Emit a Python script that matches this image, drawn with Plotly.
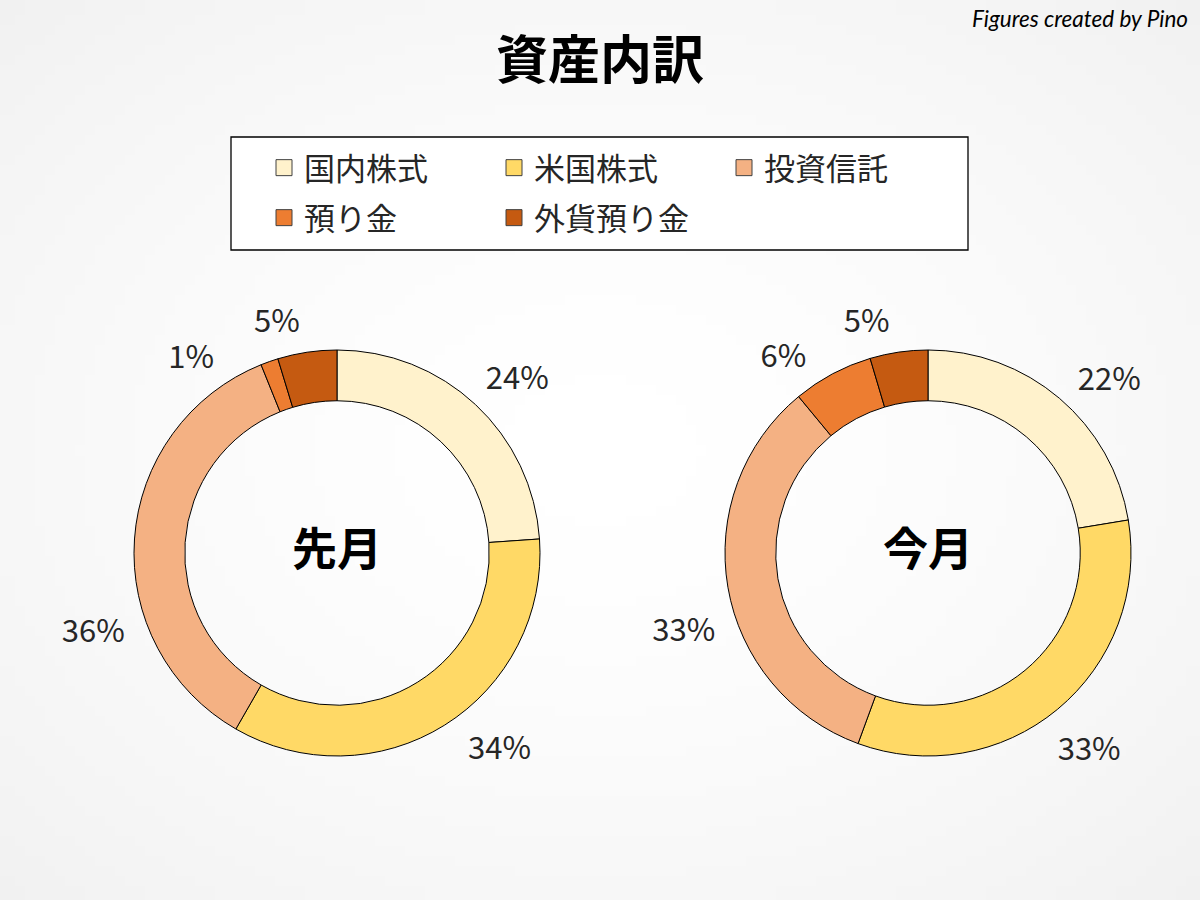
import math, zlib, struct, base64
import plotly.graph_objects as go

# ---------------- data ----------------
categories = ["国内株式", "米国株式", "投資信託", "預り金", "外貨預り金"]
last_month = [23.9, 34.4, 35.6, 1.4, 4.7]
this_month = [22.4, 33.2, 33.4, 6.4, 4.6]
pie_titles = ["先月", "今月"]
colors = ["#FFF2CC", "#FFD966", "#F4B183", "#ED7D31", "#C55A11"]
legend_rows = [["国内株式", "米国株式", "投資信託"], ["預り金", "外貨預り金"]]

# ---------------- styling ----------------
W, H = 1200, 900
FONT = "Noto Sans CJK JP"
centers = [(337, 553), (928, 553)]
R_MAIN = 203
R_LABEL = 214
# the labels in the original were dragged a little off their slice centres;
# angular nudges (degrees, clockwise) applied to each label's carrier ring
label_nudges = [[-3, -2, -24, -12, 1.5], [0, 6, -10, -3, 1]]


def gradient_png(w=120, h=90):
    rows = []
    for j in range(h):
        row = bytearray([0])
        for i in range(w):
            dx = (i + 0.5) / w - 0.5
            dy = (j + 0.5) / h - 0.5
            d = min(1.0, math.hypot(dx, dy) / 0.7071)
            v = int(round(255 - 14 * d ** 1.6))
            row += bytes([v, v, v])
        rows.append(bytes(row))
    raw = b"".join(rows)

    def chunk(t, d):
        return struct.pack(">I", len(d)) + t + d + struct.pack(">I", zlib.crc32(t + d) & 0xFFFFFFFF)

    png = (b"\x89PNG\r\n\x1a\n"
           + chunk(b"IHDR", struct.pack(">IIBBBBB", w, h, 8, 2, 0, 0, 0))
           + chunk(b"IDAT", zlib.compress(raw))
           + chunk(b"IEND", b""))
    return "data:image/png;base64," + base64.b64encode(png).decode()


def domain(cx, cy, r):
    return dict(x=[(cx - r) / W, (cx + r) / W], y=[(H - cy - r) / H, (H - cy + r) / H])


fig = go.Figure()
n = len(categories)
for vals, title, (cx, cy), nudges in zip([last_month, this_month], pie_titles, centers, label_nudges):
    # visible donut
    fig.add_trace(go.Pie(
        labels=categories, values=vals, sort=False, direction="clockwise", rotation=0,
        hole=0.75, domain=domain(cx, cy, R_MAIN),
        marker=dict(colors=colors, line=dict(color="black", width=1)),
        textinfo="none", showlegend=False, hoverinfo="label+percent",
        title=dict(text="<b>" + title + "</b>", position="middle center",
                   font=dict(family=FONT, size=45, color="black")),
    ))
    # transparent rings, one per label, carrying the percentage text outside
    for k in range(n):
        fig.add_trace(go.Pie(
            labels=categories, values=vals, sort=False, direction="clockwise",
            rotation=nudges[k],
            hole=0.95, domain=domain(cx, cy, R_LABEL),
            marker=dict(colors=["rgba(0,0,0,0)"] * n, line=dict(width=0)),
            textposition=["outside" if i == k else "none" for i in range(n)],
            texttemplate="%{percent:.0%}",
            outsidetextfont=dict(family=FONT, size=31, color="#262626"),
            showlegend=False, hoverinfo="skip",
        ))

# legend entries (two rows, as two legends)
color_of = dict(zip(categories, colors))
for li, row in enumerate(legend_rows):
    lname = "legend" if li == 0 else "legend2"
    for name in row:
        fig.add_trace(go.Scatter(
            x=[None], y=[None], mode="markers", name=name, legend=lname,
            marker=dict(symbol="square", size=17, color=color_of[name],
                        line=dict(color="#404040", width=1)),
        ))

legend_common = dict(
    orientation="h", xanchor="left", yanchor="middle", x=264 / W,
    font=dict(family=FONT, size=31, color="#262626"),
    entrywidth=185, entrywidthmode="pixels", bgcolor="rgba(0,0,0,0)",
    borderwidth=0, itemsizing="trace", itemclick=False, itemdoubleclick=False,
)

fig.update_layout(
    width=W, height=H,
    margin=dict(l=0, r=0, t=0, b=0),
    paper_bgcolor="#f6f6f6", plot_bgcolor="rgba(0,0,0,0)",
    xaxis=dict(visible=False), yaxis=dict(visible=False),
    title=dict(text="<b>資産内訳</b>", x=0.5, xanchor="center", y=1 - 61 / H, yanchor="middle",
               yref="container", font=dict(family=FONT, size=52, color="black")),
    legend=dict(legend_common, y=(H - 168) / H),
    legend2=dict(legend_common, y=(H - 218) / H),
    images=[dict(source=gradient_png(), xref="paper", yref="paper", x=0, y=1,
                 sizex=1, sizey=1, xanchor="left", yanchor="top",
                 sizing="stretch", layer="below")],
    shapes=[dict(type="rect", xref="paper", yref="paper",
                 x0=231 / W, x1=968 / W, y0=(H - 250) / H, y1=(H - 137) / H,
                 line=dict(color="black", width=1.3), fillcolor="white", layer="below")],
    annotations=[dict(text="<i>Figures created by Pino</i>", xref="paper", yref="paper",
                      x=1190 / W, y=1 - 3 / H, xanchor="right", yanchor="top", showarrow=False,
                      font=dict(family="Lato", size=22.5, color="black"))],
)

fig.write_html("out.html", config={"displayModeBar": False},
               post_script="document.body.style.margin='0px';")
